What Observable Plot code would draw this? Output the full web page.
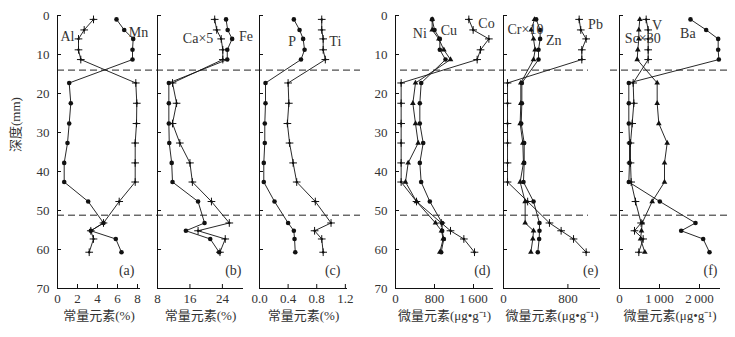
<!DOCTYPE html>
<html><head><meta charset="utf-8">
<script src="https://cdn.jsdelivr.net/npm/d3@7"></script>
<script src="https://cdn.jsdelivr.net/npm/@observablehq/plot@0.6"></script>
<style>
body{margin:0;background:#fff}
#chart{position:relative;width:735px;height:337px;background:#fff}
#chart svg{position:absolute;left:0;top:0}
#chart svg text{font-family:'Liberation Serif','Noto Sans CJK SC',serif;font-variant-numeric:normal}
</style>
</head><body><div id="chart"></div>
<script>
// depth of each sample (mm)
const depth = [1, 3.7, 6, 8.8, 11.3, 17.3, 22.5, 27.7, 32.7, 37.8, 42.7, 47.7, 53.2, 55.2, 57.3, 60.7];
const yTicks = [0, 10, 20, 30, 40, 50, 60, 70];
const boundaries = [14, 51.2];

// (a) major elements, %
const Al = [3.6, 2.67, 2.1, 2.1, 2.33, 7.83, 7.93, 7.9, 7.77, 7.77, 7.77, 6.17, 4.6, 3.33, 3.6, 3.17];
const Mn = [5.9, 6.67, 7.57, 7.5, 7.5, 1.17, 1.33, 1.17, 1.0, 0.67, 0.67, 3.07, 4.6, 3.33, 5.83, 6.4];
// (b)
const Ca5 = [22.1, 22.6, 23.7, 24.1, 24.1, 11.7, 12.7, 11.7, 13.5, 16.0, 16.6, 21.3, 25.7, 18.0, 24.7, 23.4];
const Fe = [24.9, 25.3, 26.4, 25.2, 25.2, 10.8, 10.8, 10.8, 10.9, 11.5, 11.7, 18.0, 19.6, 15.0, 21.0, 23.2];
// (c)
const P = [0.48, 0.56, 0.61, 0.63, 0.58, 0.084, 0.084, 0.074, 0.074, 0.06, 0.06, 0.21, 0.40, 0.48, 0.49, 0.50];
const Ti = [0.87, 0.87, 0.89, 0.89, 0.92, 0.40, 0.41, 0.39, 0.42, 0.47, 0.52, 0.78, 1.0, 0.77, 0.87, 0.89];
// (d) trace elements, µg/g
const Ni = [752, 752, 889, 991, 1128, 410, 356, 410, 465, 260, 205, 431, 820, 943, 978, 909];
const Cu = [752, 800, 909, 909, 1026, 527, 499, 499, 568, 499, 526, 704, 957, 957, 991, 937];
const Co = [1504, 1593, 1915, 1744, 1675, 116, 116, 116, 116, 116, 116, 431, 940, 1128, 1402, 1620];
// (e)
const Cr10 = [385, 344, 373, 393, 373, 215, 215, 207, 240, 248, 207, 269, 269, 373, 364, 340];
const Zn = [406, 455, 455, 435, 435, 228, 228, 220, 257, 257, 248, 373, 447, 447, 443, 426];
const Pb = [940, 960, 1027, 973, 973, 50, 50, 50, 50, 50, 50, 300, 571, 716, 870, 1027];
// (f)
const Sc30 = [508, 483, 483, 458, 442, 942, 942, 983, 1192, 1125, 1125, 817, 567, 550, 525, 633];
const V = [667, 717, 717, 717, 717, 342, 358, 317, 275, 275, 292, 400, 540, 375, 592, 483];
const Ba = [1775, 2167, 2467, 2467, 2483, 233, 233, 233, 250, 250, 233, 1008, 1900, 1542, 2092, 2250];

const aTicks = [0, 2, 4, 6, 8];
const bTicks = [8, 16, 24];
const cTicks = [0, 0.4, 0.8, 1.2];
const dTicks = [0, 800, 1600];
const eTicks = [0, 800];
const fTicks = [0, 1000, 2000];

const titleMajor = "常量元素(%)";
const titleTrace = "微量元素(μg•g⁻¹)";
const yTitle = "深度(mm)";

const W = 735, H = 337, TOP = 15, BOTTOM = 288;
const serif = "'Liberation Serif', 'Noto Sans CJK SC', serif";
const ink = "#111";
const txt = "#333";

const fmt = d => d >= 1000 ? String(Math.floor(d / 1000)) + "\u2009" + String(d % 1000).padStart(3, "0") : String(d);
const fmt1 = d => d.toFixed(1);

const panels = [
  {left: 57, right: 140, domain: [0, 8.3], ticks: aTicks, fmt: fmt,
   series: [{v: Al, sym: "plus"}, {v: Mn, sym: "circle"}],
   labels: [{t: "Al", x: 1.0, y: 5.4}, {t: "Mn", x: 8.1, y: 4.4}],
   letter: "(a)", letterDx: -6, title: titleMajor, yLabels: true, yTitle: true, dash: [0, -220]},
  {left: 157, right: 243, domain: [8, 29.2], ticks: bTicks, fmt: fmt,
   series: [{v: Ca5, sym: "plus"}, {v: Fe, sym: "circle"}],
   labels: [{t: "Ca×5", x: 18.0, y: 5.9}, {t: "Fe", x: 29.8, y: 5.4}],
   letter: "(b)", letterDx: -2, title: titleMajor, yLabels: false, dash: null},
  {left: 259, right: 347, domain: [0, 1.23], ticks: cTicks, fmt: fmt1,
   series: [{v: P, sym: "circle"}, {v: Ti, sym: "plus"}],
   labels: [{t: "P", x: 0.456, y: 6.6}, {t: "Ti", x: 1.06, y: 6.6}],
   letter: "(c)", letterDx: -7, title: titleMajor, yLabels: false, dash: null},
  {left: 395, right: 493, domain: [0, 2010], ticks: dTicks, fmt: fmt,
   series: [{v: Ni, sym: "triangle"}, {v: Cu, sym: "circle"}, {v: Co, sym: "plus"}],
   labels: [{t: "Ni", x: 499, y: 4.5}, {t: "Cu", x: 1094, y: 3.9}, {t: "Co", x: 1867, y: 2.0}],
   letter: "(d)", letterDx: -3, title: titleTrace, yLabels: true, dash: [5, -95]},
  {left: 503, right: 600, domain: [0, 1205], ticks: eTicks, fmt: fmt,
   series: [{v: Cr10, sym: "triangle"}, {v: Zn, sym: "circle"}, {v: Pb, sym: "plus"}],
   labels: [{t: "Cr×10", x: 273, y: 3.7}, {t: "Zn", x: 625, y: 6.3}, {t: "Pb", x: 1143, y: 2.3}],
   letter: "(e)", letterDx: -2, title: titleTrace, yLabels: false, dash: null},
  {left: 619, right: 720, domain: [0, 2525], ticks: fTicks, fmt: fmt,
   series: [{v: Sc30, sym: "triangle"}, {v: V, sym: "plus"}, {v: Ba, sym: "circle"}],
   labels: [{t: "Sc×30", x: 583, y: 6.0}, {t: "V", x: 942, y: 2.6}, {t: "Ba", x: 1708, y: 4.5}],
   letter: "(f)", letterDx: -3, title: titleTrace, yLabels: false, dash: [-9, -7]}
];

function symbolMarks(data, sym) {
  if (sym === "circle") return [Plot.dot(data, {x: "v", y: "d", r: 2.3, fill: ink, stroke: "none"})];
  if (sym === "triangle") return [Plot.dot(data, {x: "v", y: "d", symbol: "triangle", r: 2.1, fill: ink, stroke: "none"})];
  return [
    Plot.dot(data, {x: "v", y: "d", symbol: "plus", r: 2.6, stroke: ink, strokeWidth: 1, fill: "none"}),
    Plot.dot(data, {x: "v", y: "d", r: 1.2, fill: ink, stroke: "none"})
  ];
}

const root = document.getElementById("chart");
for (const p of panels) {
  const fw = p.right - p.left, fh = BOTTOM - TOP;
  const marks = [];
  for (const s of p.series) {
    const data = depth.map((d, i) => ({d, v: s.v[i]}));
    marks.push(Plot.line(data, {x: "v", y: "d", stroke: ink, strokeWidth: 0.9}));
    marks.push(...symbolMarks(data, s.sym));
  }
  if (p.dash) marks.push(Plot.ruleY(boundaries, {stroke: "#222", strokeWidth: 1, strokeDasharray: "7,4", insetLeft: p.dash[0], insetRight: p.dash[1]}));
  marks.push(Plot.ruleX([p.domain[0]], {stroke: ink, strokeWidth: 1}));
  marks.push(Plot.ruleY([70], {stroke: ink, strokeWidth: 1}));
  marks.push(Plot.tickY(yTicks, {y: d => d, stroke: ink, insetRight: fw - 4}));
  marks.push(Plot.tickX(p.ticks, {x: d => d, stroke: ink, insetTop: fh - 4}));
  marks.push(Plot.axisX(p.ticks, {tickSize: 0, tickPadding: 5, label: null, tickFormat: p.fmt, fontSize: 13, fontFamily: serif, fill: txt}));
  if (p.yLabels) marks.push(Plot.axisY(yTicks, {tickSize: 0, tickPadding: 8, label: null, fontSize: 13, fontFamily: serif, fill: txt}));
  if (p.yTitle) marks.push(Plot.text([yTitle], {frameAnchor: "left", dx: -42, rotate: -90, fontSize: 13, fontFamily: serif, fill: txt}));
  marks.push(Plot.text(p.labels, {x: "x", y: "y", text: "t", fontSize: 14, fontFamily: serif, fill: txt}));
  marks.push(Plot.text([p.letter], {frameAnchor: "bottom-right", dx: p.letterDx, dy: -18, textAnchor: "end", lineAnchor: "middle", fontSize: 14, fontFamily: serif, fill: txt}));
  marks.push(Plot.text([p.title], {frameAnchor: "bottom", dy: 27, lineAnchor: "middle", fontSize: 13, fontFamily: serif, fill: txt}));

  const svg = Plot.plot({
    width: W, height: H,
    marginLeft: p.left, marginRight: W - p.right, marginTop: TOP, marginBottom: H - BOTTOM,
    style: {background: "transparent", fontFamily: serif, fontSize: "13px", color: txt, overflow: "visible"},
    x: {domain: p.domain},
    y: {domain: [0, 70], reverse: true, axis: p.yLabels ? undefined : null},
    marks
  });
  root.appendChild(svg);
}
</script>
</body></html>
